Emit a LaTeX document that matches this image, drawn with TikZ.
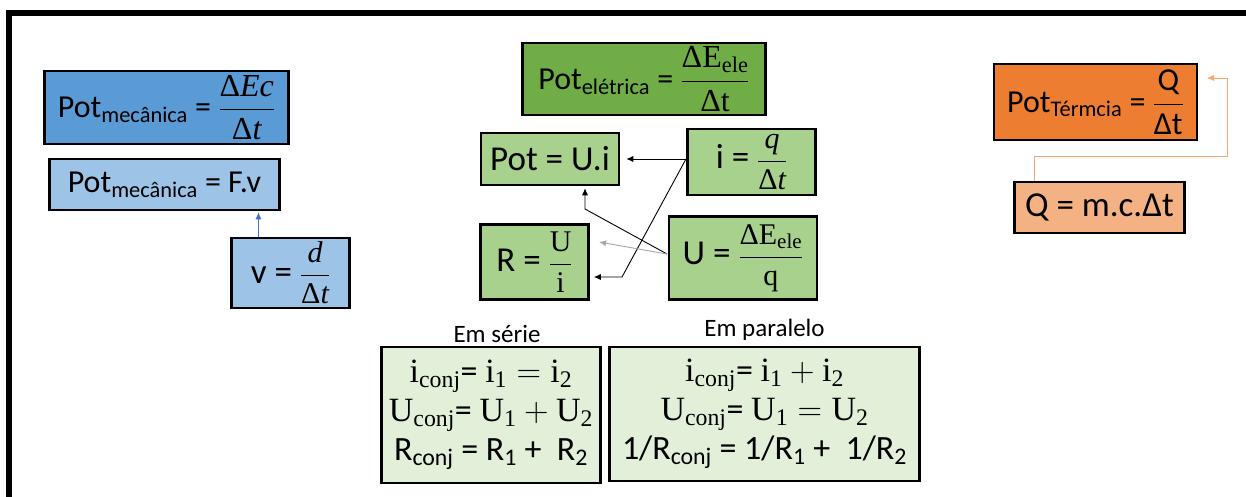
\RequirePackage{fix-cm}
\documentclass[tikz,border=0pt]{standalone}
\usepackage{amsmath}
\usepackage[no-math]{fontspec}
\setmainfont{Carlito}
\newfontfamily\srf{Liberation Serif}
\usetikzlibrary{arrows.meta,positioning,calc}
\definecolor{mecA}{HTML}{5B9BD5}
\definecolor{mecB}{HTML}{9DC3E6}
\definecolor{eleA}{HTML}{70AD47}
\definecolor{eleB}{HTML}{A9D18E}
\definecolor{eleC}{HTML}{E2F0D9}
\definecolor{terA}{HTML}{ED7D31}
\definecolor{terB}{HTML}{F4B183}
\definecolor{azul}{HTML}{4472C4}
\newcommand{\ftop}{\fontsize{32}{38}\selectfont}
\newcommand{\fbig}{\fontsize{35}{40}\selectfont}
\newcommand{\frow}{\fontsize{34}{39}\selectfont}
\newcommand{\flbl}{\fontsize{25}{28}\selectfont}
\newcommand{\sr}[1]{\text{\srf #1}}
\newcommand{\si}[1]{\text{\srf\itshape #1}}
\newcommand{\dfr}[2]{{\fontsize{30}{36}\selectfont$\dfrac{#1}{#2}$}}

\begin{document}
\begin{tikzpicture}[x=1pt, y=-1pt, >={Latex[length=7pt,width=6pt]},
  box/.style={draw, line width=2.5pt, inner sep=0pt, align=center, font=\ftop},
  arr/.style={->, line width=0.9pt}]
\useasboundingbox (0,0) rectangle (1246,497);
% frame
\draw[line width=6pt] (9,497) -- (9,13) -- (1246,13);

% mechanical
\node (mecA) [box, fill=mecA, minimum width=244pt, minimum height=73pt] at (166.5,107.5) {Pot$_{\text{mecânica}}$ = $\dfrac{\sr{Δ}\si{Ec}}{\sr{Δ}\si{t}}$};
\node (mecB) [box, fill=mecB, minimum width=230pt, minimum height=51pt] at (164.5,184.5) {Pot$_{\text{mecânica}}$ = F.v};
\node (vel) [box, fill=mecB, font=\fbig, minimum width=118pt, minimum height=70pt] at (290.5,273) {v = \dfr{\si{d}}{\sr{Δ}\si{t}}};
\draw[->, azul, line width=0.8pt, shorten >=1pt] ([xshift=-32pt]vel.north) -- ([xshift=-32pt]vel.north |- mecB.south);

% electrical
\node (eleA) [box, fill=eleA, minimum width=243pt, minimum height=72pt] at (644,79) {Pot$_{\text{elétrica}}$ = $\dfrac{\sr{ΔE}_{\sr{ele}}}{\sr{Δt}}$};
\node (potui) [box, fill=eleB, font=\fbig, minimum width=138pt, minimum height=52pt] at (550,159) {Pot = U.i};
\node (corr) [box, fill=eleB, font=\fbig, minimum width=128pt, minimum height=66pt] at (751.5,162) {i = \dfr{\si{q}}{\sr{Δ}\si{t}}};
\node (resi) [box, fill=eleB, font=\fbig, minimum width=108pt, minimum height=75pt] at (534.5,262) {R = \dfr{\sr{U}}{\sr{i}}};
\node (tens) [box, fill=eleB, font=\fbig, minimum width=148pt, minimum height=83pt] at (743,258) {U = \dfr{\sr{ΔE}_{\sr{ele}}}{\sr{q}}};

\coordinate (iout) at (686,159);
\coordinate (uout) at (667,254);
\coordinate (bendR) at (622,277);
\coordinate (bendP) at (585,209);
\coordinate (greyend) at (599,242);
\draw[arr, shorten >=6pt] (iout) -- (iout -| potui.east);
\draw[arr, shorten >=4pt] (iout) -- (bendR) -- (bendR -| resi.east);
\draw[arr, shorten >=2pt] (uout) -- (bendP) -- (bendP |- potui.south);
\draw[->, gray!70, line width=0.9pt] (uout) -- (greyend);

% series / parallel
\node (serie) [box, fill=eleC, font=\frow, minimum width=219pt, minimum height=136pt] at (491,415)
  {$\sr{i}_{\sr{conj}}$= $\sr{i}_{\sr{1}}=\sr{i}_{\sr{2}}$\\
   $\sr{U}_{\sr{conj}}$= $\sr{U}_{\sr{1}}+\sr{U}_{\sr{2}}$\\
   R$_{\text{conj}}$ = R$_{\text{1}}$ + \ R$_{\text{2}}$};
\node (para) [box, fill=eleC, font=\frow, minimum width=310pt, minimum height=134pt] at (764.5,414)
  {$\sr{i}_{\sr{conj}}$= $\sr{i}_{\sr{1}}+\sr{i}_{\sr{2}}$\\
   $\sr{U}_{\sr{conj}}$= $\sr{U}_{\sr{1}}=\sr{U}_{\sr{2}}$\\
   1/R$_{\text{conj}}$ = 1/R$_{\text{1}}$ + \ 1/R$_{\text{2}}$};
\node (lblserie) [above=0pt of serie, xshift=6pt, font=\flbl] {Em série};
\node (lblpara) [above=2pt of para, font=\flbl] {Em paralelo};

% thermal
\node (terA) [box, fill=terA, minimum width=203pt, minimum height=76pt] at (1095.5,102) {Pot$_{\text{Térmcia}}$ = $\dfrac{\text{Q}}{\text{Δt}}$};
\node (terB) [box, fill=terB, font=\fbig, minimum width=170pt, minimum height=51pt] at (1099.5,207.5) {Q = m.c.Δt};
\coordinate (oturn) at (1227,156);
\coordinate (otop) at (1227,78);
\coordinate (otip) at (1207,78);
\draw[->, terB!80!terA, line width=0.8pt] ([xshift=21pt]terB.north west) |- (oturn) -- (otop) -- (otip);
\end{tikzpicture}
\end{document}
